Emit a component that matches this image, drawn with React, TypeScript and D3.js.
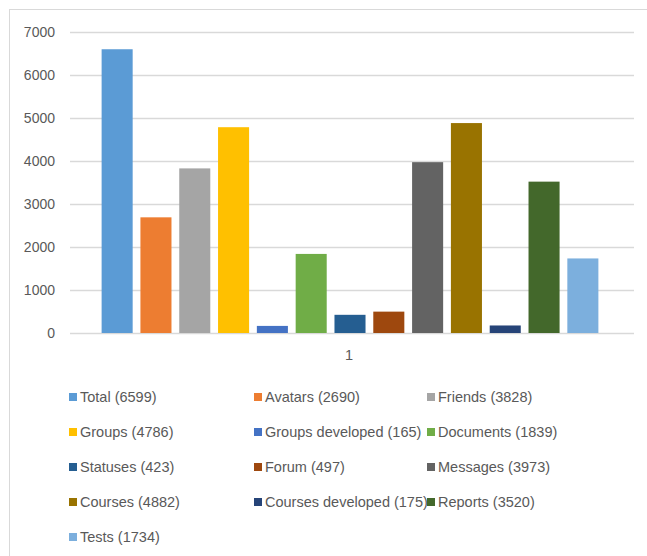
import React from "react";
import * as d3 from "d3";

const seriesNames = [
  "Total", "Avatars", "Friends", "Groups", "Groups developed", "Documents",
  "Statuses", "Forum", "Messages", "Courses", "Courses developed", "Reports", "Tests",
];
const seriesValues = [6599, 2690, 3828, 4786, 165, 1839, 423, 497, 3973, 4882, 175, 3520, 1734];
const seriesColors = [
  "#5B9BD5", "#ED7D31", "#A5A5A5", "#FFC000", "#4472C4", "#70AD47",
  "#255E91", "#9E480E", "#636363", "#997300", "#264478", "#43682B", "#7CAFDD",
];
const categories = ["1"];
const yTicks = [0, 1000, 2000, 3000, 4000, 5000, 6000, 7000];

const W = 647;
const H = 556;
const FONT = "'Liberation Sans', Arial, sans-serif";
const TEXT = "#595959";

export default function App() {
  const plotLeft = 70;
  const plotRight = 634;
  const y = d3.scaleLinear().domain([0, 7000]).range([333, 32]);
  const x0 = d3.scaleBand().domain(categories).range([plotLeft - 4, plotRight]).paddingOuter(0.0717);
  const x1 = d3.scaleBand().domain(seriesNames).range([0, x0.bandwidth()]).paddingInner(0.2);

  const legendCols = [69, 254, 427];
  const legendRows = [397, 432, 467, 502, 537];

  return (
    <svg width={W} height={H} style={{ position: "absolute", left: 0, top: 0, background: "#fff" }}>
      <rect x={0} y={0} width={W} height={H} fill="#fff" />
      <rect x={9.5} y={9.5} width={700} height={700} fill="none" stroke="#d9d9d9" strokeWidth={1} />
      {yTicks.map((t) => (
        <g key={t}>
          <line x1={plotLeft} x2={plotRight} y1={Math.round(y(t)) + 0.5} y2={Math.round(y(t)) + 0.5} stroke="#d9d9d9" strokeWidth={1.3} />
          <text x={55} y={y(t)} textAnchor="end" dominantBaseline="central" fontFamily={FONT} fontSize={14} fill={TEXT}>
            {t}
          </text>
        </g>
      ))}
      {categories.map((c) => (
        <g key={c} transform={`translate(${x0(c)},0)`}>
          {seriesNames.map((s, i) => (
            <rect
              key={s}
              x={x1(s)}
              y={y(seriesValues[i])}
              width={x1.bandwidth()}
              height={y(0) - y(seriesValues[i])}
              fill={seriesColors[i]}
            />
          ))}
          <text x={x0.bandwidth() / 2 - 1} y={355} textAnchor="middle" dominantBaseline="central" fontFamily={FONT} fontSize={14.5} fill={TEXT}>
            {c}
          </text>
        </g>
      ))}
      {seriesNames.map((s, i) => {
        const cx = legendCols[i % 3];
        const cy = legendRows[Math.floor(i / 3)];
        return (
          <g key={s}>
            <rect x={cx} y={cy - 4} width={8} height={8} fill={seriesColors[i]} />
            <text x={cx + 11} y={cy} dominantBaseline="central" fontFamily={FONT} fontSize={14.5} fill={TEXT}>
              {`${s} (${seriesValues[i]})`}
            </text>
          </g>
        );
      })}
    </svg>
  );
}
